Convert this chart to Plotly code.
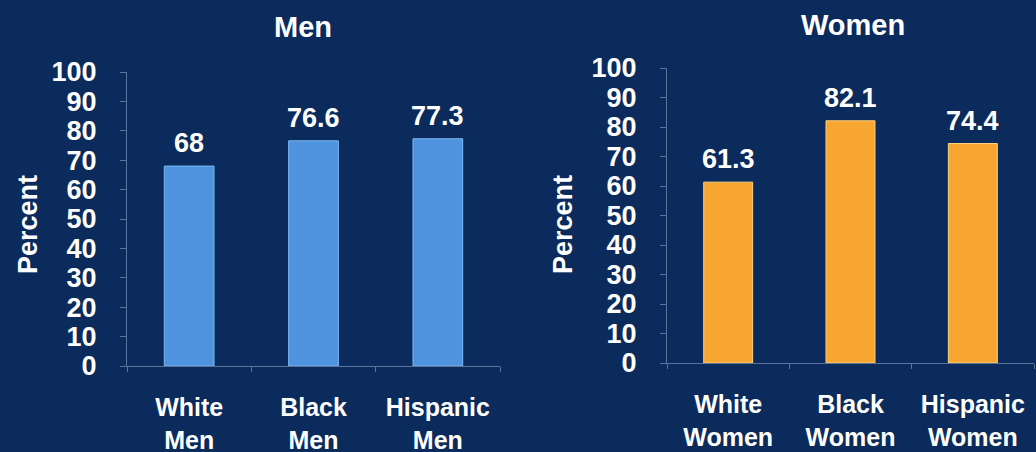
import plotly.graph_objects as go

men_categories = ["White<br>Men", "Black<br>Men", "Hispanic<br>Men"]
men_values = [68, 76.6, 77.3]
men_labels = ["68", "76.6", "77.3"]

women_categories = ["White<br>Women", "Black<br>Women", "Hispanic<br>Women"]
women_values = [61.3, 82.1, 74.4]
women_labels = ["61.3", "82.1", "74.4"]

y_ticks = list(range(0, 101, 10))

BG = "#0b2b5d"
AXIS = "#5a7499"
FONT = "Liberation Sans, Arial, sans-serif"

fig = go.Figure()
fig.add_trace(go.Bar(
    x=men_categories, y=men_values, xaxis="x", yaxis="y",
    width=0.4,
    marker=dict(color="#4f93de", line=dict(color="#7ab8f5", width=1)),
    showlegend=False,
))
fig.add_trace(go.Bar(
    x=women_categories, y=women_values, xaxis="x2", yaxis="y2",
    width=0.4,
    marker=dict(color="#f8a632", line=dict(color="#ffd27a", width=1)),
    showlegend=False,
))

yax = dict(range=[0, 100], tickvals=y_ticks, showgrid=False, zeroline=False,
           showline=True, linecolor=AXIS, linewidth=1, ticks="outside",
           ticklen=6, tickcolor=AXIS, ticklabelstandoff=18, automargin=False,
           tickfont=dict(family=FONT, size=27, color="white", weight="bold"),
           fixedrange=True)
xax = dict(showgrid=False, zeroline=False, showline=True, linecolor=AXIS,
           linewidth=1, ticks="outside", tickson="boundaries", ticklen=5,
           tickcolor=AXIS, ticklabelstandoff=19, automargin=False,
           tickfont=dict(family=FONT, size=25, color="white", weight="bold"),
           fixedrange=True)

annotations = [
    dict(text="Men", x=303/1036, y=1-27/452, xref="paper", yref="paper",
         xanchor="center", yanchor="middle", showarrow=False,
         font=dict(family=FONT, size=29, color="white", weight="bold")),
    dict(text="Women", x=853/1036, y=1-25/452, xref="paper", yref="paper",
         xanchor="center", yanchor="middle", showarrow=False,
         font=dict(family=FONT, size=29, color="white", weight="bold")),
    dict(text="Percent", x=28/1036, y=1-225/452, xref="paper", yref="paper",
         xanchor="center", yanchor="middle", textangle=-90, showarrow=False,
         font=dict(family=FONT, size=27, color="white", weight="bold")),
    dict(text="Percent", x=563/1036, y=1-225/452, xref="paper", yref="paper",
         xanchor="center", yanchor="middle", textangle=-90, showarrow=False,
         font=dict(family=FONT, size=27, color="white", weight="bold")),
]
for cats, vals, labs, xr, yr in [
    (men_categories, men_values, men_labels, "x", "y"),
    (women_categories, women_values, women_labels, "x2", "y2"),
]:
    for c, v, t in zip(cats, vals, labs):
        annotations.append(dict(
            text=t, x=c, y=v, xref=xr, yref=yr, xanchor="center",
            yanchor="middle", yshift=23, showarrow=False,
            font=dict(family=FONT, size=27, color="white", weight="bold")))

fig.update_layout(
    width=1036, height=452,
    margin=dict(l=0, r=0, t=0, b=0),
    paper_bgcolor=BG, plot_bgcolor=BG,
    font=dict(family=FONT, color="white"),
    xaxis=dict(domain=[127/1036, 500/1036], anchor="y", range=[-0.5, 2.5], **xax),
    yaxis=dict(domain=[1-366/452, 1-72/452], anchor="x", **yax),
    xaxis2=dict(domain=[667/1036, 1034/1036], anchor="y2", range=[-0.5, 2.5], **xax),
    yaxis2=dict(domain=[1-363/452, 1-68/452], anchor="x2", **yax),
    annotations=annotations,
)

fig.write_html("out.html")
